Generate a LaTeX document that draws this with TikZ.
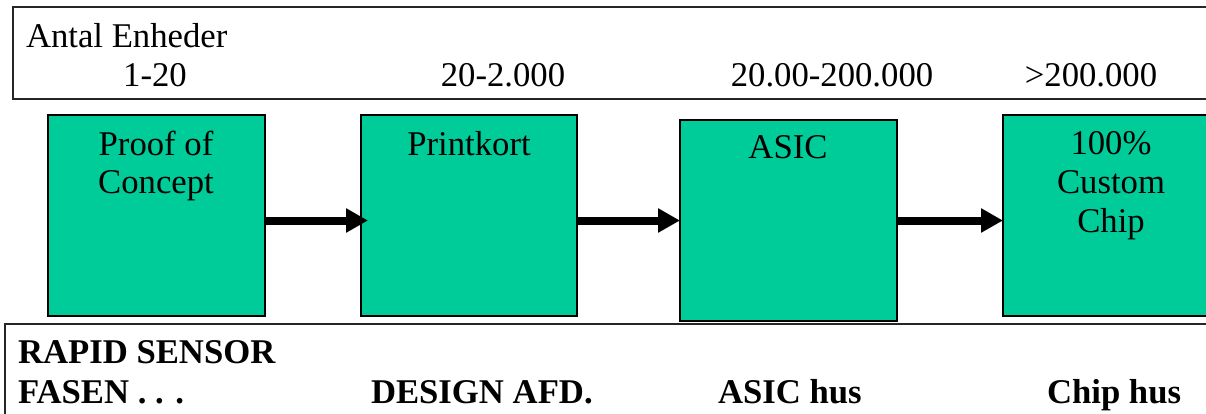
\documentclass[tikz,border=0pt]{standalone}
\usepackage{fontspec}
\setmainfont{Liberation Serif}
\usetikzlibrary{arrows.meta}
\definecolor{stagegreen}{RGB}{0,204,153}
\begin{document}
\begin{tikzpicture}[x=1pt,y=-1pt,
  every node/.style={font=\fontsize{34.7}{40}\selectfont, inner sep=0pt, outer sep=0pt},
  stagebox/.style={draw=black, line width=2pt, fill=stagegreen, rectangle, anchor=north west},
  frame/.style={draw=black!85, line width=2pt, rectangle, anchor=north west},
  txt/.style={anchor=base},
  txtl/.style={anchor=base west},
  head/.style={anchor=base west, font=\fontsize{34.7}{40}\selectfont\bfseries},
  flow/.style={line width=8pt, -{Triangle[length=22pt,width=23pt]}}]
\clip (0,0) rectangle (1206,413);
\useasboundingbox (0,0) rectangle (1206,413);

% volume band
\node[frame, minimum width=1220pt, minimum height=92pt] (vol) at (13,7) {};
\node[txtl] (lbl) at (26,47) {Antal Enheder};
\node[txt] (v1) at (155,86) {1-20};
\node[txt] (v2) at (503,86) {20-2.000};
\node[txt] (v3) at (832,86) {20.00-200.000};
\node[txt] (v4) at (1091,86) {>200.000};

% stages
\node[stagebox, minimum width=217pt, minimum height=201pt] (b1) at (48,115) {};
\node[stagebox, minimum width=216pt, minimum height=201pt] (b2) at (361,115) {};
\node[stagebox, minimum width=217pt, minimum height=201pt] (b3) at (680,120) {};
\node[stagebox, minimum width=217pt, minimum height=201pt] (b4) at (1003,115) {};

\node[txt] (t1a) at (156,155) {Proof of};
\node[txt] (t1b) at (156,193) {Concept};
\node[txt] (t2) at (469,155) {Printkort};
\node[txt] (t3) at (788,158) {ASIC};
\node[txt] (t4a) at (1111,154) {100\%};
\node[txt] (t4b) at (1111,193) {Custom};
\node[txt] (t4c) at (1111,232) {Chip};

% flow arrows, all on one level
\coordinate (lvl) at (0,220.5);
\draw[flow] (b1.east |- lvl) -- ([xshift=7pt]b2.west |- lvl);
\draw[flow] (b2.east |- lvl) -- (b3.west |- lvl);
\draw[flow] (b3.east |- lvl) -- (b4.west |- lvl);

% phase band
\node[frame, minimum width=1230pt, minimum height=120pt] (phase) at (5,324) {};
\node[head] (p1a) at (18,363) {RAPID SENSOR};
\node[head] (p1b) at (18,403) {FASEN . . .};
\node[head] (p2) at (371,403) {DESIGN AFD.};
\node[head] (p3) at (718,403) {ASIC hus};
\node[head] (p4) at (1047,403) {Chip hus};
\end{tikzpicture}
\end{document}
